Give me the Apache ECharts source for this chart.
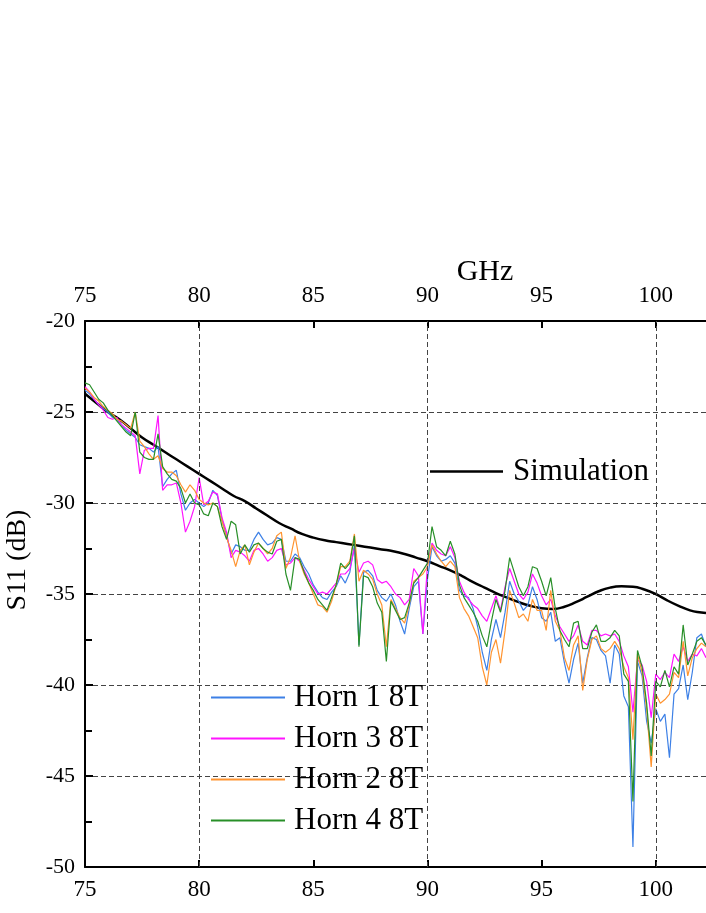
<!DOCTYPE html>
<html>
<head>
<meta charset="utf-8">
<script src="https://cdn.jsdelivr.net/npm/echarts@6/dist/echarts.min.js"></script>
<style>
  html, body { margin: 0; padding: 0; background: #fff; }
  #chart { width: 706px; height: 913px; }
</style>
</head>
<body>
<div id="chart"></div>
<script>
// measured frequency grid (GHz)
var freqs = [75,75.2,75.4,75.6,75.8,76,76.2,76.4,76.6,76.8,77,77.2,77.4,77.6,77.8,78,78.2,78.4,78.6,78.8,79,79.2,79.4,79.6,79.8,
  80,80.2,80.4,80.6,80.8,81,81.2,81.4,81.6,81.8,82,82.2,82.4,82.6,82.8,83,83.2,83.4,83.6,83.8,84,84.2,84.4,84.6,84.8,
  85,85.2,85.4,85.6,85.8,86,86.2,86.4,86.6,86.8,87,87.2,87.4,87.6,87.8,88,88.2,88.4,88.6,88.8,89,89.2,89.4,89.6,89.8,
  90,90.2,90.4,90.6,90.8,91,91.2,91.4,91.6,91.8,92,92.2,92.4,92.6,92.8,93,93.2,93.4,93.6,93.8,94,94.2,94.4,94.6,94.8,
  95,95.2,95.4,95.6,95.8,96,96.2,96.4,96.6,96.8,97,97.2,97.4,97.6,97.8,98,98.2,98.4,98.6,98.8,99,99.2,99.4,99.6,99.8,
  100,100.2,100.4,100.6,100.8,101,101.2,101.4,101.6,101.8,102,102.2];

var horn1 = [-23.8,-24.0,-24.3,-24.6,-24.8, -25.0,-25.3,-25.4,-25.7,-26.0, -26.2,-26.4,-26.8,-26.9,-27.0, -27.2,-26.9,-29.1,-28.7,-28.4, -28.2,-29.5,-30.4,-30.0,-29.8,
  -30.0,-30.2,-30.0,-29.3,-29.6, -30.9,-31.8,-32.8,-32.3,-32.4, -32.6,-32.6,-32.0,-31.6,-32.0, -32.3,-32.2,-31.9,-32.0,-33.2, -33.2,-32.8,-33.0,-33.5,-33.9,
  -34.5,-34.9,-35.2,-35.3,-34.9, -34.6,-34.0,-34.4,-33.8,-32.3, -37.8,-33.8,-33.7,-34.0,-34.8, -35.2,-35.4,-35.0,-35.6,-36.5, -37.2,-35.8,-34.6,-34.3,-37.2,
  -34.2,-32.4,-32.9,-33.2,-33.1, -32.9,-33.3,-34.8,-35.1,-35.2, -35.8,-36.8,-38.2,-39.2,-37.5, -36.4,-37.4,-36.0,-34.3,-35.0, -35.4,-35.9,-35.6,-34.6,-35.3,
  -36.3,-36.5,-36.0,-37.6,-37.4, -38.8,-39.9,-38.6,-37.7,-39.9, -38.5,-37.4,-37.5,-38.1,-38.4, -39.9,-37.8,-38.3,-40.6,-41.2, -48.9,-38.7,-39.5,-42.0,-43.2,
  -41.3,-42.0,-41.6,-44.0,-40.5, -40.2,-38.9,-40.8,-39.3,-37.4, -37.2,-37.9];

var horn3 = [-23.6,-23.9,-24.3,-24.6,-24.9, -25.3,-25.4,-25.3,-25.7,-25.9, -26.1,-26.3,-28.4,-27.1,-27.0, -27.0,-25.2,-29.3,-29.0,-29.0, -28.9,-30.0,-31.6,-31.0,-30.2,
  -28.6,-30.1,-29.9,-29.4,-29.5, -30.8,-31.6,-33.0,-32.6,-32.7, -32.9,-33.2,-32.6,-32.5,-32.8, -33.2,-33.0,-32.6,-32.5,-33.4, -33.3,-33.0,-33.2,-33.7,-34.2,
  -34.6,-35.0,-34.9,-35.0,-34.7, -34.4,-33.9,-33.9,-33.6,-32.5, -33.8,-33.3,-33.2,-33.4,-34.2, -34.4,-34.3,-34.6,-35.0,-35.2, -35.6,-35.3,-33.6,-34.0,-37.2,
  -33.4,-32.2,-32.6,-32.8,-32.9, -32.4,-33.0,-34.3,-34.9,-35.3, -35.6,-35.8,-36.2,-36.5,-35.8, -35.1,-35.9,-34.6,-33.6,-34.3, -35.0,-35.3,-34.9,-33.9,-34.4,
  -35.1,-35.6,-35.3,-36.2,-36.8, -37.2,-37.6,-37.3,-36.7,-37.6, -37.8,-37.0,-37.0,-37.3,-37.2, -37.3,-37.2,-37.6,-38.4,-39.0, -41.5,-38.6,-38.9,-39.8,-41.8,
  -39.4,-39.7,-39.3,-39.6,-38.3, -38.7,-37.9,-38.7,-38.3,-38.4, -38.0,-38.5];

var horn2 = [-23.7,-23.9,-24.2,-24.4,-24.7, -24.9,-25.1,-25.4,-25.5,-25.7, -25.9,-25.0,-26.6,-26.9,-27.3, -27.6,-27.4,-28.1,-28.3,-28.3, -28.5,-29.0,-29.4,-29.0,-29.3,
  -29.8,-30.0,-30.1,-30.0,-30.2, -31.0,-31.9,-32.6,-33.5,-32.6, -32.3,-33.4,-32.7,-32.2,-32.5, -32.8,-32.5,-31.8,-31.6,-33.6, -33.0,-31.8,-33.2,-33.9,-34.4,
  -35.0,-35.6,-35.7,-36.0,-35.4, -34.5,-33.5,-33.5,-33.2,-31.7, -34.3,-33.7,-33.9,-34.2,-35.0, -35.6,-37.9,-35.3,-35.8,-36.3, -36.6,-35.6,-34.3,-34.1,-33.9,
  -33.5,-32.3,-32.8,-33.2,-33.5, -33.2,-33.5,-35.2,-35.8,-36.2, -36.8,-37.4,-39.0,-40.0,-38.2, -37.5,-38.8,-37.0,-34.8,-35.5, -36.3,-36.1,-36.5,-35.3,-35.9,
  -35.9,-37.0,-34.8,-36.5,-37.0, -38.5,-39.2,-37.8,-37.3,-40.3, -38.6,-37.5,-37.3,-38.0,-38.2, -38.0,-37.6,-38.0,-39.0,-39.6, -43.0,-38.3,-39.3,-41.3,-44.5,
  -40.5,-41.0,-40.8,-40.5,-39.3, -39.6,-37.6,-39.5,-38.5,-38.0, -37.7,-37.9];

var horn4 = [-23.4,-23.5,-23.9,-24.3,-24.5, -24.9,-25.2,-25.5,-25.8,-26.1, -26.3,-25.0,-27.2,-27.5,-27.6, -27.6,-26.2,-28.0,-28.4,-28.7, -28.8,-29.2,-30.0,-29.5,-30.0,
  -30.1,-30.6,-30.7,-30.0,-30.2, -31.3,-32.0,-31.0,-31.2,-32.8, -32.3,-32.7,-32.3,-32.2,-32.5, -32.7,-32.8,-32.1,-32.0,-33.9, -34.8,-33.0,-33.1,-33.8,-34.4,
  -34.8,-35.3,-35.6,-35.9,-35.2, -34.5,-33.3,-33.6,-33.3,-31.8, -37.9,-34.0,-34.1,-34.6,-35.5, -36.0,-38.7,-35.4,-35.9,-36.4, -36.3,-35.5,-34.4,-34.1,-33.7,
  -33.3,-31.3,-32.4,-32.6,-32.9, -32.1,-32.8,-34.5,-35.2,-35.6, -36.0,-36.5,-37.3,-37.9,-36.5, -35.3,-36.0,-34.8,-33.0,-33.8, -34.6,-35.1,-34.6,-33.5,-33.6,
  -34.3,-35.1,-34.1,-35.8,-37.0, -37.5,-37.9,-36.6,-36.5,-38.0, -38.0,-37.1,-36.7,-37.6,-37.6, -37.4,-37.0,-37.3,-39.4,-39.8, -46.4,-38.1,-39.0,-41.0,-43.9,
  -39.8,-40.1,-39.2,-40.1,-39.0, -39.4,-36.7,-38.9,-38.3,-37.6, -37.4,-37.8];

// simulation curve
var simFreqs = [75,75.5,76,76.5,77,77.5,78,78.5,79,79.5,80,80.5,81,81.5,82,82.5,83,83.5,84,84.5,85,85.5,86,86.5,87,87.5,88,88.5,89,89.5,
  90,90.5,91,91.5,92,92.5,93,93.5,94,94.5,95,95.5,96,96.5,97,97.5,98,98.5,99,99.5,100,100.5,101,101.5,102,102.2];
var simValues = [-24.0,-24.5,-25.0,-25.4,-25.9,-26.4,-26.8,-27.2,-27.6,-28.0,-28.4,-28.8,-29.2,-29.6,-29.9,-30.3,-30.7,-31.1,-31.4,-31.7,
  -31.9,-32.05,-32.15,-32.25,-32.35,-32.45,-32.55,-32.65,-32.8,-33.0,-33.2,-33.45,-33.7,-34.0,-34.35,-34.65,-34.95,-35.2,-35.45,-35.65,
  -35.78,-35.82,-35.7,-35.45,-35.15,-34.85,-34.65,-34.58,-34.6,-34.75,-35.0,-35.35,-35.65,-35.9,-36.02,-36.05];

var xTicks = [75, 80, 85, 90, 95, 100];
var vGridLines = [80, 90, 100];

function pairs(xs, ys) {
  return xs.map(function (x, i) { return [x, ys[i]]; });
}

var FONT = '"Liberation Serif", "Times New Roman", serif';
var chart = echarts.init(document.getElementById('chart'));

function xAxisOpt(pos, margin) {
  return {
    type: 'value',
    position: pos,
    min: 75,
    max: 102.2,
    interval: 5,
    axisLine: { show: true, onZero: false, lineStyle: { color: '#000', width: 2 } },
    axisTick: { show: true, inside: true, length: 7, lineStyle: { color: '#000', width: 2 } },
    axisLabel: {
      margin: margin,
      color: '#000',
      fontFamily: FONT,
      fontSize: 23,
      showMaxLabel: false,
      formatter: function (v) { return xTicks.indexOf(v) >= 0 ? String(v) : ''; }
    },
    splitLine: { show: false }
  };
}

var option = {
  animation: false,
  backgroundColor: '#fff',
  grid: { left: 85, right: 0, top: 321, bottom: 46, containLabel: false },
  xAxis: [xAxisOpt('bottom', 11), xAxisOpt('top', 14)],
  yAxis: {
    type: 'value',
    min: -50,
    max: -20,
    interval: 5,
    axisLine: { show: true, onZero: false, lineStyle: { color: '#000', width: 2 } },
    axisTick: { show: true, inside: true, length: 8, lineStyle: { color: '#000', width: 2 } },
    minorTick: { show: true, splitNumber: 2, length: 7, lineStyle: { color: '#000', width: 2 } },
    axisLabel: { margin: 10, color: '#000', fontFamily: FONT, fontSize: 22 },
    splitLine: { show: true, lineStyle: { color: '#444', width: 1, type: [5, 3] } }
  },
  legend: [
    {
      orient: 'vertical',
      left: 211,
      top: 682,
      padding: 0,
      itemGap: 10,
      icon: 'rect',
      itemWidth: 74,
      itemHeight: 1.8,
      z: 10,
      data: ['Horn 1 8T', 'Horn 3 8T', 'Horn 2 8T', 'Horn 4 8T'],
      textStyle: { color: '#000', fontFamily: FONT, fontSize: 31, lineHeight: 30, padding: [0, 0, 0, 4] }
    },
    {
      orient: 'vertical',
      left: 430,
      top: 456,
      padding: 0,
      icon: 'rect',
      itemWidth: 73,
      itemHeight: 2.5,
      z: 10,
      data: ['Simulation'],
      textStyle: { color: '#000', fontFamily: FONT, fontSize: 31, lineHeight: 30, padding: [0, 0, 0, 5] }
    }
  ],
  graphic: [
    {
      type: 'text',
      x: 485, y: 272,
      style: { text: 'GHz', font: '30px ' + FONT, fill: '#000', textAlign: 'center', textVerticalAlign: 'middle' }
    },
    {
      type: 'text',
      x: 18, y: 560,
      rotation: Math.PI / 2,
      style: { text: 'S11 (dB)', font: '28px ' + FONT, fill: '#000', textAlign: 'center', textVerticalAlign: 'middle' }
    }
  ],
  series: [
    {
      name: 'grid',
      type: 'line',
      data: [],
      z: 1,
      markLine: {
        silent: true,
        symbol: ['none', 'none'],
        label: { show: false },
        lineStyle: { color: '#444', width: 1, type: [5, 3] },
        data: vGridLines.map(function (v) { return { xAxis: v }; })
      }
    },
    {
      name: 'Simulation', type: 'line', smooth: true, showSymbol: false, symbol: 'none',
      data: pairs(simFreqs, simValues),
      lineStyle: { color: '#000', width: 2.5 }, itemStyle: { color: '#000' }
    },
    {
      name: 'Horn 1 8T', type: 'line', showSymbol: false, symbol: 'none',
      data: pairs(freqs, horn1),
      lineStyle: { color: '#3d80e6', width: 1.2 }, itemStyle: { color: '#3d80e6' }
    },
    {
      name: 'Horn 3 8T', type: 'line', showSymbol: false, symbol: 'none',
      data: pairs(freqs, horn3),
      lineStyle: { color: '#ff14ff', width: 1.2 }, itemStyle: { color: '#ff14ff' }
    },
    {
      name: 'Horn 2 8T', type: 'line', showSymbol: false, symbol: 'none',
      data: pairs(freqs, horn2),
      lineStyle: { color: '#ff9430', width: 1.2 }, itemStyle: { color: '#ff9430' }
    },
    {
      name: 'Horn 4 8T', type: 'line', showSymbol: false, symbol: 'none',
      data: pairs(freqs, horn4),
      lineStyle: { color: '#288f28', width: 1.2 }, itemStyle: { color: '#288f28' }
    }
  ]
};

chart.setOption(option);
</script>
</body>
</html>
